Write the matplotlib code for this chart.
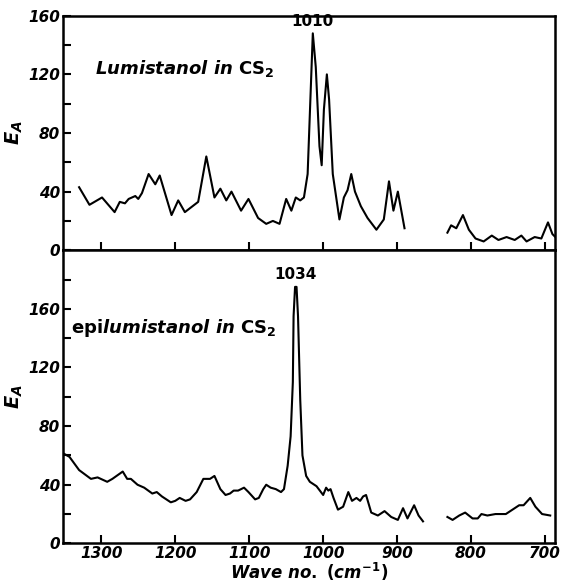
import numpy as np
import matplotlib.pyplot as plt
from matplotlib.ticker import MultipleLocator

plt.rcParams['font.family'] = 'DejaVu Sans'
plt.rcParams['mathtext.fontset'] = 'custom'
plt.rcParams['mathtext.rm'] = 'DejaVu Sans:bold'
plt.rcParams['mathtext.it'] = 'DejaVu Sans:italic:bold'
plt.rcParams['mathtext.bf'] = 'DejaVu Sans:bold'

# Lumistanol in CS2 (two recorded stretches)
lumi_wn_a = [1330, 1316, 1299, 1282, 1275, 1268, 1263, 1254, 1250, 1245, 1236, 1227,
             1221, 1205, 1196, 1187, 1169, 1158, 1147, 1139, 1131, 1124, 1111, 1101,
             1088, 1077, 1068, 1059, 1050, 1043, 1037, 1031, 1026, 1021, 1014, 1010,
             1005, 1002, 999, 995, 992, 987, 978, 972, 967, 962, 957, 949, 940, 928,
             918, 911, 905, 899, 890]
lumi_ea_a = [43, 31, 36, 26, 33, 32, 35, 37, 35, 39, 52, 45,
             51, 24, 34, 26, 33, 64, 36, 42, 34, 40, 27, 35,
             22, 18, 20, 18, 35, 27, 36, 34, 36, 52, 148, 125,
             71, 58, 96, 120, 103, 52, 21, 36, 41, 52, 40, 30, 22, 14,
             21, 47, 27, 40, 15]
lumi_wn_b = [832, 827, 820, 811, 803, 794, 783, 772, 763, 752, 741, 732, 725, 714,
             705, 696, 690, 682]
lumi_ea_b = [12, 17, 15, 24, 14, 8, 6, 10, 7, 9, 7, 10, 6, 9, 8, 19, 11, 7]

# epilumistanol in CS2
epi_wn_a = [1350, 1343, 1330, 1314, 1305, 1292, 1285, 1271, 1265, 1260, 1251, 1242,
            1231, 1225, 1218, 1206, 1200, 1194, 1186, 1180, 1171, 1162, 1153, 1147,
            1139, 1132, 1126, 1121, 1115, 1107, 1101, 1092, 1087, 1081, 1077, 1071,
            1064, 1057, 1053, 1048, 1044, 1041, 1040, 1038, 1036, 1034, 1031, 1028,
            1023, 1018, 1009, 1000, 996, 993, 990, 986, 980, 973, 966, 961, 955, 950,
            946, 942, 935, 926, 917, 908, 899, 892, 886, 877, 871, 865]
epi_ea_a = [61, 59, 50, 44, 45, 42, 44, 49, 44, 44, 40, 38,
            34, 35, 32, 28, 29, 31, 29, 30, 35, 44, 44, 46,
            37, 33, 34, 36, 36, 38, 35, 30, 31, 37, 40, 38,
            37, 35, 37, 53, 73, 110, 155, 175, 175, 155, 98, 60,
            46, 42, 39, 33, 38, 36, 37, 31, 23, 25, 35, 29, 31, 29,
            32, 33, 21, 19, 22, 18, 16, 24, 17, 26, 19, 15]
epi_wn_b = [832, 825, 816, 808, 798, 791, 786, 778, 767, 753, 744, 735, 729, 720,
            713, 704, 693]
epi_ea_b = [18, 16, 19, 21, 17, 17, 20, 19, 20, 20, 23, 26, 26, 31, 25, 20, 19]

x_ticks = [1300, 1200, 1100, 1000, 900, 800, 700]
y_ticks = [0, 40, 80, 120, 160]

fig = plt.figure(figsize=(5.61, 5.83), dpi=100)
gs = fig.add_gridspec(2, 1, height_ratios=[160, 200], hspace=0,
                      left=0.112, right=0.99, top=0.973, bottom=0.068)
ax1 = fig.add_subplot(gs[0])
ax2 = fig.add_subplot(gs[1])

ax1.plot(lumi_wn_a, lumi_ea_a, color='black', lw=1.5)
ax1.plot(lumi_wn_b, lumi_ea_b, color='black', lw=1.5)
ax2.plot(epi_wn_a, epi_ea_a, color='black', lw=1.5)
ax2.plot(epi_wn_b, epi_ea_b, color='black', lw=1.5)

ax1.set_ylim(0, 160)
ax2.set_ylim(0, 200)

for ax in (ax1, ax2):
    ax.set_xlim(1352, 686)
    ax.set_xticks(x_ticks)
    ax.set_yticks(y_ticks)
    ax.yaxis.set_minor_locator(MultipleLocator(20))
    ax.tick_params(direction='in', length=6, width=1.5, labelsize=11, pad=2)
    ax.tick_params(which='minor', direction='in', length=6, width=1.5)
    for lab in ax.get_xticklabels() + ax.get_yticklabels():
        lab.set_fontweight('bold')
        lab.set_fontstyle('italic')
    for sp in ax.spines.values():
        sp.set_linewidth(1.8)
    ax.set_ylabel(r'$E_A$', fontsize=14, labelpad=2)

ax1.tick_params(labelbottom=False)

ax1.text(1014, 151, '1010', ha='center', va='bottom', fontsize=11, fontweight='bold')
ax2.text(1037, 178, '1034', ha='center', va='bottom', fontsize=11, fontweight='bold')

ax1.text(1308, 124, r'$Lumistanol\ in\ \mathrm{CS_2}$', ha='left', va='center', fontsize=13)
ax2.text(1341, 147, r'$\mathrm{epi}lumistanol\ in\ \mathrm{CS_2}$', ha='left', va='center', fontsize=13)

ax2.set_xlabel(r'$Wave\ no.\ (cm^{-1})$', fontsize=12, labelpad=0)

plt.savefig('out.png', dpi=100)
plt.close()
